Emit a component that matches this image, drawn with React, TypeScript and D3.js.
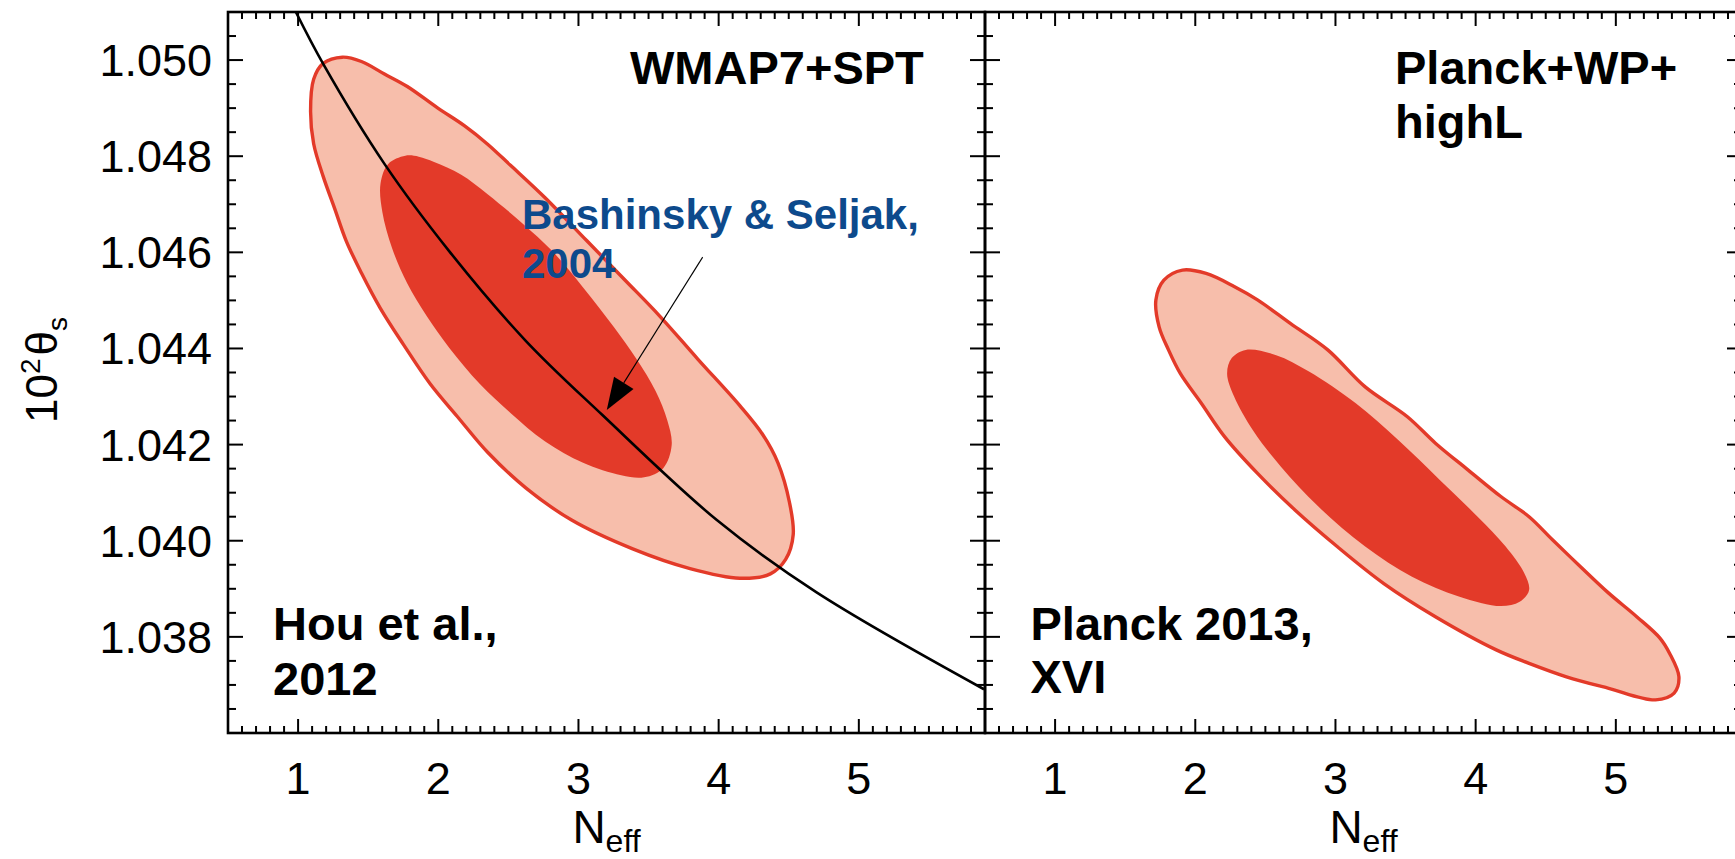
import React from "react";
import * as d3 from "d3";

// ---- axis ticks ----
const xTickValues = [1, 2, 3, 4, 5];
const xTickLabels = ["1", "2", "3", "4", "5"];
const yTickValues = [1.038, 1.04, 1.042, 1.044, 1.046, 1.048, 1.05];
const yTickLabels = ["1.038", "1.040", "1.042", "1.044", "1.046", "1.048", "1.050"];

// ---- WMAP7+SPT (Hou et al. 2012) contours: [N_eff, 10^2 theta_s] ----
const wmapOuter: [number, number][] = [
  [1.316, 1.05006], [1.179, 1.04993], [1.111, 1.0496], [1.089, 1.04893],
  [1.111, 1.04826], [1.179, 1.04758], [1.261, 1.04691], [1.343, 1.04624],
  [1.452, 1.04557], [1.588, 1.04483], [1.752, 1.04408], [1.943, 1.04326],
  [2.134, 1.04259], [2.352, 1.04184], [2.624, 1.0411], [2.951, 1.04043],
  [3.387, 1.03983], [3.796, 1.03942], [4.151, 1.03922], [4.369, 1.03931],
  [4.478, 1.03961], [4.532, 1.04013], [4.505, 1.0408], [4.423, 1.04162],
  [4.314, 1.04221], [4.151, 1.04281], [3.851, 1.04378], [3.578, 1.04468],
  [3.333, 1.04542], [3.06, 1.04624], [2.76, 1.04714], [2.515, 1.04781],
  [2.352, 1.04825], [2.188, 1.04863], [1.997, 1.049], [1.779, 1.04945],
  [1.616, 1.04971], [1.452, 1.04997],
];
const wmapInner: [number, number][] = [
  [1.765, 1.04801], [1.643, 1.04784], [1.588, 1.04743], [1.601, 1.04684],
  [1.67, 1.04609], [1.779, 1.04535], [1.916, 1.04468], [2.079, 1.04401],
  [2.297, 1.04326], [2.515, 1.04266], [2.76, 1.04207], [3.033, 1.04162],
  [3.305, 1.04136], [3.469, 1.04132], [3.605, 1.04151], [3.665, 1.04199],
  [3.633, 1.04251], [3.551, 1.04311], [3.414, 1.04378], [3.251, 1.04445],
  [3.033, 1.04527], [2.815, 1.04602], [2.597, 1.04661], [2.352, 1.04721],
  [2.161, 1.04762], [1.97, 1.04788], [1.861, 1.04799],
];

// ---- Planck+WP+highL (Planck 2013 XVI) contours ----
const planckOuter: [number, number][] = [
  [1.909, 1.04563], [1.776, 1.04542], [1.719, 1.04501], [1.742, 1.04445],
  [1.809, 1.04397], [1.893, 1.04348], [2.043, 1.04286], [2.21, 1.04216],
  [2.444, 1.0414], [2.711, 1.04064], [3.012, 1.03988], [3.345, 1.03911],
  [3.713, 1.03842], [4.147, 1.03773], [4.381, 1.03745], [4.648, 1.03717],
  [4.949, 1.03693], [5.283, 1.03669], [5.416, 1.03683], [5.45, 1.03717],
  [5.383, 1.03766], [5.316, 1.03797], [5.149, 1.03842], [4.949, 1.03891],
  [4.748, 1.03946], [4.548, 1.04002], [4.381, 1.0405], [4.18, 1.04092],
  [3.947, 1.04147], [3.713, 1.04203], [3.513, 1.04258], [3.212, 1.0432],
  [2.945, 1.04397], [2.678, 1.04452], [2.444, 1.04501], [2.277, 1.04529],
  [2.077, 1.04556],
];
const planckInner: [number, number][] = [
  [2.36, 1.04397], [2.26, 1.0438], [2.227, 1.04348], [2.277, 1.043],
  [2.411, 1.0423], [2.611, 1.04154], [2.878, 1.04071], [3.212, 1.03988],
  [3.546, 1.03925], [3.88, 1.03884], [4.18, 1.03864], [4.314, 1.03873],
  [4.381, 1.03897], [4.348, 1.03932], [4.214, 1.03988], [4.014, 1.0405],
  [3.746, 1.04126], [3.446, 1.0421], [3.145, 1.04286], [2.811, 1.04352],
  [2.577, 1.04386],
];

// ---- Bashinsky & Seljak (2004) degeneracy line ----
const bashinskyCurve: [number, number][] = [
  [0.984, 1.051], [1.179, 1.04992], [1.616, 1.04784], [2.079, 1.04602],
  [2.624, 1.04416], [3.169, 1.04262], [3.987, 1.04043], [4.696, 1.03893],
  [5.893, 1.03691],
];
// arrow from the label down to the line: [tail, tip]
const bashinskyArrow: [number, number][] = [[3.886, 1.0459], [3.202, 1.04272]];

const X_DOMAIN: [number, number] = [0.5, 5.9];
const Y_DOMAIN: [number, number] = [1.036, 1.051];

const W = 1735;
const H = 859;
const TOP = 12;
const BOTTOM = 733;
const PANEL_W = 757;
const LEFT0 = 228;
const LEFT1 = 985;

const LIGHT = "#F7BEAB";
const DARK = "#E33A29";
const BLUE = "#0D4A8C";
const FONT = "'Liberation Sans', Arial, Helvetica, sans-serif";

const yScale = d3.scaleLinear().domain(Y_DOMAIN).range([BOTTOM, TOP]);

const minorX = d3.range(6, 60).map((i) => i / 10).filter((v) => Math.abs(v - Math.round(v)) > 1e-6);
const minorY = d3.range(0, 31).map((i) => 1.036 + i * 0.0005).filter(
  (v) => !yTickValues.some((t) => Math.abs(t - v) < 1e-7)
);

type TextBlock = { lines: string[]; x: number; y: number; size: number; color: string; dy: number };

function Panel(props: {
  id: string;
  x0: number;
  outer: [number, number][];
  inner: [number, number][];
  showYLabels: boolean;
  blocks: TextBlock[];
  withCurve: boolean;
}) {
  const { id, x0, outer, inner, showYLabels, blocks, withCurve } = props;
  const x1 = x0 + PANEL_W;
  const xScale = d3.scaleLinear().domain(X_DOMAIN).range([x0, x1]);
  const closed = d3
    .line<[number, number]>()
    .x((d) => xScale(d[0]))
    .y((d) => yScale(d[1]))
    .curve(d3.curveCatmullRomClosed.alpha(0.5));
  const open = d3
    .line<[number, number]>()
    .x((d) => xScale(d[0]))
    .y((d) => yScale(d[1]))
    .curve(d3.curveCatmullRom.alpha(0.5));

  let arrow: React.ReactNode = null;
  if (withCurve) {
    const [tail, tip] = bashinskyArrow;
    const tx = xScale(tail[0]);
    const ty = yScale(tail[1]);
    const hx = xScale(tip[0]);
    const hy = yScale(tip[1]);
    const len = Math.hypot(hx - tx, hy - ty);
    const ux = (hx - tx) / len;
    const uy = (hy - ty) / len;
    const headL = 32;
    const headW = 11.5;
    const bx = hx - ux * headL;
    const by = hy - uy * headL;
    const pts = [
      [hx, hy],
      [bx - uy * headW, by + ux * headW],
      [bx + uy * headW, by - ux * headW],
    ];
    arrow = (
      <g>
        <line x1={tx} y1={ty} x2={bx} y2={by} stroke="#000" strokeWidth={1.1} />
        <polygon points={pts.map((p) => p.join(",")).join(" ")} fill="#000" />
      </g>
    );
  }

  const tickStroke = 2;
  return (
    <g>
      <defs>
        <clipPath id={`clip-${id}`}>
          <rect x={x0} y={TOP} width={PANEL_W} height={BOTTOM - TOP} />
        </clipPath>
      </defs>
      <g clipPath={`url(#clip-${id})`}>
        <path d={closed(outer) || ""} fill={LIGHT} stroke={DARK} strokeWidth={3.4} strokeLinejoin="round" />
        <path d={closed(inner) || ""} fill={DARK} stroke="none" />
        {withCurve && <path d={open(bashinskyCurve) || ""} fill="none" stroke="#000" strokeWidth={2.6} />}
      </g>
      {arrow}

      {/* frame */}
      <rect x={x0} y={TOP} width={PANEL_W} height={BOTTOM - TOP} fill="none" stroke="#000" strokeWidth={2.6} />

      {/* x ticks, bottom and top */}
      {xTickValues.map((v) => (
        <g key={`xM${v}`} stroke="#000" strokeWidth={tickStroke}>
          <line x1={xScale(v)} x2={xScale(v)} y1={BOTTOM} y2={BOTTOM - 14} />
          <line x1={xScale(v)} x2={xScale(v)} y1={TOP} y2={TOP + 14} />
        </g>
      ))}
      {minorX.map((v) => (
        <g key={`xm${v}`} stroke="#000" strokeWidth={tickStroke}>
          <line x1={xScale(v)} x2={xScale(v)} y1={BOTTOM} y2={BOTTOM - 7} />
          <line x1={xScale(v)} x2={xScale(v)} y1={TOP} y2={TOP + 7} />
        </g>
      ))}
      {/* y ticks, left and right */}
      {yTickValues.map((v) => (
        <g key={`yM${v}`} stroke="#000" strokeWidth={tickStroke}>
          <line x1={x0} x2={x0 + 15} y1={yScale(v)} y2={yScale(v)} />
          <line x1={x1} x2={x1 - 15} y1={yScale(v)} y2={yScale(v)} />
        </g>
      ))}
      {minorY.map((v) => (
        <g key={`ym${v}`} stroke="#000" strokeWidth={tickStroke}>
          <line x1={x0} x2={x0 + 8} y1={yScale(v)} y2={yScale(v)} />
          <line x1={x1} x2={x1 - 8} y1={yScale(v)} y2={yScale(v)} />
        </g>
      ))}

      {/* tick labels */}
      {xTickValues.map((v, i) => (
        <text key={`xl${v}`} x={xScale(v)} y={794} textAnchor="middle" fontSize={45} fontFamily={FONT} fill="#000">
          {xTickLabels[i]}
        </text>
      ))}
      {showYLabels &&
        yTickValues.map((v, i) => (
          <text key={`yl${v}`} x={212} y={yScale(v) + 16} textAnchor="end" fontSize={45} fontFamily={FONT} fill="#000">
            {yTickLabels[i]}
          </text>
        ))}

      {/* axis title */}
      <text x={(x0 + x1) / 2} y={843} textAnchor="middle" fontSize={46} fontFamily={FONT} fill="#000">
        N
        <tspan fontSize={32} dy={9}>
          eff
        </tspan>
      </text>

      {/* annotations */}
      {blocks.map((b, bi) => (
        <text key={`b${bi}`} fontSize={b.size} fontWeight="bold" fontFamily={FONT} fill={b.color}>
          {b.lines.map((ln, li) => (
            <tspan key={li} x={b.x} y={b.y + li * b.dy}>
              {ln}
            </tspan>
          ))}
        </text>
      ))}
    </g>
  );
}

export default function App() {
  return (
    <svg
      width={W}
      height={H}
      viewBox={`0 0 ${W} ${H}`}
      style={{ position: "absolute", left: 0, top: 0, background: "#fff", overflow: "hidden" }}
    >
      <rect x={0} y={0} width={W} height={H} fill="#fff" />
      <Panel
        id="wmap"
        x0={LEFT0}
        outer={wmapOuter}
        inner={wmapInner}
        showYLabels={true}
        withCurve={true}
        blocks={[
          { lines: ["WMAP7+SPT"], x: LEFT0 + 402, y: 84, size: 47, color: "#000", dy: 54 },
          { lines: ["Hou et al.,", "2012"], x: LEFT0 + 45, y: 640, size: 47, color: "#000", dy: 55 },
          { lines: ["Bashinsky & Seljak,", "2004"], x: 522, y: 229, size: 42, color: BLUE, dy: 48.5 },
        ]}
      />
      <Panel
        id="planck"
        x0={LEFT1}
        outer={planckOuter}
        inner={planckInner}
        showYLabels={false}
        withCurve={false}
        blocks={[
          { lines: ["Planck+WP+", "highL"], x: LEFT1 + 410, y: 84, size: 47, color: "#000", dy: 54 },
          { lines: ["Planck 2013,", "XVI"], x: LEFT1 + 45.5, y: 640, size: 47, color: "#000", dy: 53 },
        ]}
      />
      {/* y-axis title */}
      <text transform="translate(57,370) rotate(-90)" textAnchor="middle" fontSize={44} fontFamily={FONT} fill="#000">
        10
        <tspan fontSize={28} dy={-17}>
          2
        </tspan>
        <tspan dy={17} dx={3}>
          θ
        </tspan>
        <tspan fontSize={28} dy={10}>
          s
        </tspan>
      </text>
    </svg>
  );
}
